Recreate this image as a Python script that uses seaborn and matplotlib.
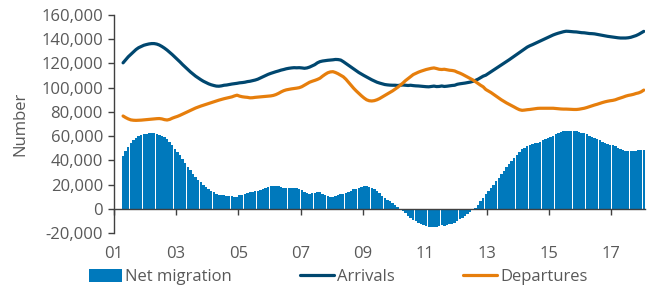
import numpy as np
import pandas as pd
import matplotlib
matplotlib.use('Agg')
import matplotlib.pyplot as plt
import seaborn as sns
from matplotlib.ticker import FuncFormatter

# Monthly data, Apr 2001 - Jan 2018, in thousands
arrivals = [
    120.5, 123.0, 125.5, 127.5, 129.5, 131.5, 133.0, 134.0, 135.0,  # 2001 (Apr-Dec)
    135.6, 136.1, 136.4, 136.4, 136.0, 135.2, 134.0, 132.6, 131.0, 129.2, 127.3, 125.3,  # 2002
    123.3, 121.2, 119.0, 117.0, 115.0, 113.0, 111.2, 109.5, 108.0, 106.6, 105.3, 104.2,  # 2003
    103.2, 102.4, 101.8, 101.3, 101.2, 101.5, 102.0, 102.2, 102.6, 103.0, 103.3, 103.6,  # 2004
    104.0, 104.2, 104.5, 105.0, 105.3, 105.8, 106.3, 107.0, 108.0, 109.0, 110.0, 111.0,  # 2005
    111.8, 112.5, 113.2, 113.8, 114.5, 115.0, 115.6, 116.0, 116.3, 116.5, 116.4, 116.5,  # 2006
    116.3, 116.0, 116.3, 117.0, 118.0, 119.0, 120.5, 121.5, 122.0, 122.3, 122.6, 122.8,  # 2007
    123.0, 123.3, 123.2, 122.8, 121.5, 120.0, 118.5, 117.0, 115.5, 114.0, 112.5, 111.2,  # 2008
    110.0, 108.8, 107.5, 106.5, 105.5, 104.5, 103.8, 103.2, 102.6, 102.3, 102.1, 102.0,  # 2009
    102.0, 101.8, 102.0, 102.2, 102.0, 101.8, 102.0, 101.7, 101.5, 101.4, 101.2, 101.0,  # 2010
    100.8, 100.7, 101.0, 101.3, 100.9, 101.0, 101.4, 101.0, 101.2, 101.5, 101.8, 102.0,  # 2011
    102.8, 103.2, 103.5, 103.8, 104.2, 104.6, 105.2, 106.0, 107.0, 108.2, 109.5, 110.3,  # 2012
    111.7, 113.0, 114.4, 115.8, 117.2, 118.6, 120.0, 121.5, 123.0, 124.5, 126.0, 127.5,  # 2013
    129.0, 130.5, 132.0, 133.5, 134.6, 135.5, 136.5, 137.5, 138.5, 139.5, 140.5, 141.5,  # 2014
    142.5, 143.5, 144.3, 145.0, 145.6, 146.2, 146.6, 146.5, 146.3, 146.1, 146.0, 145.7,  # 2015
    145.4, 145.3, 145.0, 144.7, 144.6, 144.4, 144.0, 143.6, 143.2, 142.8, 142.4, 142.1,  # 2016
    141.8, 141.5, 141.2, 141.0, 141.0, 141.0, 141.2, 141.6, 142.3, 143.0, 144.0, 145.2,  # 2017
    146.5,  # 2018 Jan
]

departures = [
    76.6, 75.3, 74.2, 73.4, 73.1, 73.0, 73.1, 73.2, 73.4,  # 2001
    73.6, 73.8, 74.0, 74.2, 74.4, 74.5, 74.2, 73.6, 73.3, 73.8, 74.8, 75.6,  # 2002
    76.3, 77.2, 78.2, 79.3, 80.3, 81.3, 82.3, 83.2, 84.0, 84.8, 85.5, 86.2,  # 2003
    86.9, 87.6, 88.3, 89.0, 89.7, 90.3, 90.9, 91.4, 91.9, 92.4, 93.2, 93.8,  # 2004
    93.0, 92.5, 92.2, 92.0, 91.6, 91.7, 92.0, 92.2, 92.4, 92.6, 92.8, 93.0,  # 2005
    93.2, 93.6, 94.3, 95.3, 96.5, 97.5, 98.2, 98.6, 99.0, 99.3, 99.6, 100.0,  # 2006
    100.8, 102.0, 103.3, 104.5, 105.3, 106.0, 106.8, 107.8, 109.5, 111.0, 112.3, 113.0,  # 2007
    113.2, 112.5, 111.5, 110.2, 109.0, 107.0, 104.5, 102.0, 99.5, 97.3, 95.3, 93.3,  # 2008
    91.5, 90.0, 89.2, 89.0, 89.3, 90.0, 91.0, 92.3, 93.6, 94.8, 96.0, 97.3,  # 2009
    98.8, 100.3, 102.0, 103.8, 105.8, 107.5, 109.3, 110.8, 111.8, 112.8, 113.6, 114.3,  # 2010
    115.0, 115.5, 116.0, 116.3, 115.8, 115.2, 115.0, 115.2, 114.8, 114.4, 114.2, 113.8,  # 2011
    112.8, 112.0, 111.0, 109.8, 108.7, 107.6, 106.4, 105.0, 103.5, 102.0, 100.7, 98.5,  # 2012
    97.3, 96.0, 94.5, 93.0, 91.5, 90.0, 88.7, 87.4, 86.3, 85.2, 84.0, 82.8,  # 2013
    81.8, 81.3, 81.5, 81.8, 82.0, 82.3, 82.6, 82.9, 83.0, 83.0, 83.0, 83.0,  # 2014
    83.0, 83.0, 82.8, 82.6, 82.4, 82.3, 82.3, 82.2, 82.1, 82.0, 82.0, 82.2,  # 2015
    82.6, 83.0, 83.6, 84.3, 85.0, 85.7, 86.3, 87.0, 87.7, 88.3, 88.8, 89.2,  # 2016
    89.5, 90.0, 90.8, 91.5, 92.2, 93.0, 93.6, 94.0, 94.5, 95.2, 95.7, 96.6,  # 2017
    98.0,  # 2018 Jan
]

net_migration = [
    43.9, 47.7, 51.3, 54.1, 56.4, 58.5, 59.9, 60.8, 61.6,  # 2001
    62.0, 62.3, 62.4, 62.2, 61.6, 60.7, 59.8, 59.0, 57.7, 55.4, 52.5, 49.7,  # 2002
    47.0, 44.0, 40.8, 37.7, 34.7, 31.7, 28.9, 26.3, 24.0, 21.8, 19.8, 18.0,  # 2003
    16.3, 14.8, 13.5, 12.3, 11.5, 11.2, 11.1, 10.8, 10.7, 10.6, 10.1, 9.8,  # 2004
    11.0, 11.7, 12.3, 13.0, 13.7, 14.1, 14.3, 14.8, 15.6, 16.4, 17.2, 18.0,  # 2005
    18.6, 18.9, 18.9, 18.5, 18.0, 17.5, 17.4, 17.4, 17.3, 17.2, 16.8, 16.5,  # 2006
    15.5, 14.0, 13.0, 12.5, 12.7, 13.0, 13.7, 13.7, 12.5, 11.3, 10.3, 9.8,  # 2007
    9.8, 10.8, 11.7, 12.6, 12.5, 13.0, 14.0, 15.0, 16.0, 16.7, 17.2, 17.9,  # 2008
    18.5, 18.8, 18.3, 17.5, 16.2, 14.5, 12.8, 10.9, 9.0, 7.5, 6.1, 4.7,  # 2009
    3.2, 1.5, 0.0, -1.6, -3.8, -5.7, -7.3, -9.1, -10.3, -11.4, -12.4, -13.3,  # 2010
    -14.2, -14.8, -15.0, -15.0, -14.9, -14.2, -13.6, -14.2, -13.6, -12.9, -12.4, -11.8,  # 2011
    -10.0, -8.8, -7.5, -6.0, -4.5, -3.0, -1.2, 1.0, 3.5, 6.2, 8.8, 11.8,  # 2012
    14.4, 17.0, 19.9, 22.8, 25.7, 28.6, 31.3, 34.1, 36.7, 39.3, 42.0, 44.7,  # 2013
    47.2, 49.2, 50.5, 51.7, 52.6, 53.2, 53.9, 54.6, 55.5, 56.5, 57.5, 58.5,  # 2014
    59.5, 60.5, 61.5, 62.4, 63.2, 63.9, 64.3, 64.3, 64.2, 64.1, 64.0, 63.5,  # 2015
    62.8, 62.3, 61.4, 60.4, 59.6, 58.7, 57.7, 56.6, 55.5, 54.5, 53.6, 52.9,  # 2016
    52.3, 51.5, 50.4, 49.5, 48.8, 48.0, 47.6, 47.6, 47.8, 47.8, 48.3, 48.6,  # 2017
    48.5,  # 2018 Jan
]

x_ticks = list(range(2001, 2018, 2))
x_tick_labels = ['01', '03', '05', '07', '09', '11', '13', '15', '17']
y_ticks = list(range(-20000, 160001, 20000))

dates = pd.date_range('2001-04-01', '2018-01-01', freq='MS')
assert len(dates) == len(arrivals) == len(departures) == len(net_migration)

df = pd.DataFrame({
    't': dates.year + (dates.month - 0.5) / 12,
    'arrivals': np.array(arrivals) * 1000,
    'departures': np.array(departures) * 1000,
    'net': np.array(net_migration) * 1000,
})

sns.set_style('white')
plt.rcParams['font.family'] = ['Open Sans', 'DejaVu Sans']
text_col = '#595959'
axis_col = '#404040'
fs = 12

fig = plt.figure(figsize=(6.56, 2.91), dpi=100)
ax = fig.add_axes([114 / 656, 1 - 233 / 291, (645 - 114) / 656, (233 - 15) / 291])

sns.barplot(data=df, x='t', y='net', native_scale=True, color='#0079BC',
            saturation=1, width=0.93, errorbar=None, linewidth=0,
            label='Net migration', ax=ax, zorder=1)
sns.lineplot(data=df, x='t', y='arrivals', color='#00476F', linewidth=2.3,
             label='Arrivals', ax=ax, zorder=3)
sns.lineplot(data=df, x='t', y='departures', color='#E67E0C', linewidth=2.3,
             label='Departures', ax=ax, zorder=3)

ax.set_xlim(2001, 2018.08)
ax.set_ylim(-20000, 160000)
ax.set_xticks(x_ticks)
ax.set_xticklabels(x_tick_labels)
ax.set_yticks(y_ticks)
ax.yaxis.set_major_formatter(FuncFormatter(lambda v, p: f'{int(v):,}'))
ax.set_xlabel('')
ax.set_ylabel('Number', fontsize=fs, color=text_col)
ax.yaxis.set_label_coords(-0.162, 0.5)

for s in ['top', 'right']:
    ax.spines[s].set_visible(False)
ax.spines['bottom'].set_position(('data', 0))
for s in ['bottom', 'left']:
    ax.spines[s].set_color(axis_col)
    ax.spines[s].set_linewidth(1.0)

ax.tick_params(axis='y', direction='out', length=4, width=1, color=axis_col,
               labelsize=fs, labelcolor=text_col, left=True, pad=4)
ax.tick_params(axis='x', direction='out', length=4, width=1, color=axis_col,
               labelsize=fs, labelcolor=text_col, bottom=True, pad=23)

# legend order: bars first, then the two lines
handles, labels = ax.get_legend_handles_labels()
order = [labels.index(n) for n in ['Net migration', 'Arrivals', 'Departures']]
if ax.legend_:
    ax.legend_.remove()
fig.legend([handles[i] for i in order], [labels[i] for i in order],
           loc='center', bbox_to_anchor=(338 / 656, 1 - 277 / 291),
           ncol=3, frameon=False, fontsize=fs, labelcolor=text_col,
           handlelength=2.0, handleheight=0.8, handletextpad=0.2,
           columnspacing=4.1)

fig.savefig('out.png', dpi=100)
